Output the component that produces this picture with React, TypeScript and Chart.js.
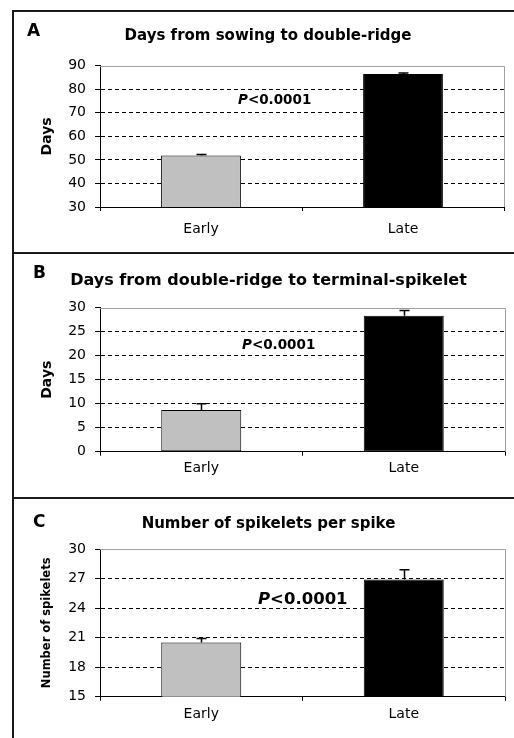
import React, { useEffect, useRef } from "react";
import { Chart, registerables } from "chart.js";

Chart.register(...registerables);
Chart.defaults.font.family = "'DejaVu Sans', sans-serif";
Chart.defaults.color = "#000";

// ---- data ----
const categories = ["Early", "Late"];
const panelLetters = ["A", "B", "C"];
const panelTitles = [
  "Days from sowing to double-ridge",
  "Days from double-ridge to terminal-spikelet",
  "Number of spikelets per spike",
];
const yAxisTitles = ["Days", "Days", "Number of spikelets"];

const sowingToDoubleRidge = [51.9, 86.5];
const sowingToDoubleRidgeErr = [0.4, 0.4];
const doubleRidgeToTerminal = [8.7, 28.3];
const doubleRidgeToTerminalErr = [1.3, 1.1];
const spikeletsPerSpike = [20.5, 26.9];
const spikeletsPerSpikeErr = [0.4, 1.0];

const yMins = [30, 0, 15];
const yMaxs = [90, 30, 30];
const ySteps = [10, 5, 3];

const pValueItalic = "P";
const pValueRest = "<0.0001";

const barColors = ["#c0c0c0", "#000000"];

const panelValues = [sowingToDoubleRidge, doubleRidgeToTerminal, spikeletsPerSpike];
const panelErrors = [sowingToDoubleRidgeErr, doubleRidgeToTerminalErr, spikeletsPerSpikeErr];

// ---- layout (positions/sizes only) ----
type PanelLayout = {
  top: number;
  height: number;
  titleFont: number;
  titlePadTop: number;
  titlePadBottom: number;
  xHeight: number;
  xPad: number;
  rightPad: number;
  pX: number;
  pY: number;
  pFont: number;
  letterX: number;
  letterY: number;
  yTitleFont: number;
  yTitlePad: number;
};

const CANVAS_LEFT = 14;
const CANVAS_WIDTH = 500;
const LEFT_PAD = 18;
const Y_AXIS_WIDTH = 86 - LEFT_PAD;

const layouts: PanelLayout[] = [
  { top: 12, height: 240, titleFont: 15, titlePadTop: 15, titlePadBottom: 20.7, xHeight: 45, xPad: 9.6, rightPad: 10, pX: 224, pY: 88, pFont: 13.5, letterX: 13, letterY: 19.5, yTitleFont: 14, yTitlePad: 24.6 - LEFT_PAD },
  { top: 254, height: 243, titleFont: 16, titlePadTop: 17.4, titlePadBottom: 17.1, xHeight: 45.3, xPad: 3.9, rightPad: 9, pX: 228, pY: 91, pFont: 13.5, letterX: 19, letterY: 20, yTitleFont: 14, yTitlePad: 25.1 - LEFT_PAD },
  { top: 499, height: 239, titleFont: 15, titlePadTop: 16, titlePadBottom: 16, xHeight: 41.3, xPad: 4.9, rightPad: 9, pX: 244, pY: 101, pFont: 16.5, letterX: 19, letterY: 23.5, yTitleFont: 11.5, yTitlePad: 26.6 - LEFT_PAD },
];

function Panel({ index }: { index: number }) {
  const ref = useRef<HTMLCanvasElement | null>(null);
  const L = layouts[index];

  useEffect(() => {
    if (!ref.current) return;
    const values = panelValues[index];
    const errors = panelErrors[index];
    const yMin = yMins[index];
    const yMax = yMaxs[index];

    const decorPlugin = {
      id: "decor" + index,
      beforeDatasetsDraw(chart: any) {
        const { ctx, chartArea } = chart;
        ctx.save();
        ctx.strokeStyle = "#a0a0a0";
        ctx.lineWidth = 1;
        ctx.beginPath();
        ctx.moveTo(chartArea.left, Math.round(chartArea.top) + 0.5);
        ctx.lineTo(Math.round(chartArea.right) + 0.5, Math.round(chartArea.top) + 0.5);
        ctx.lineTo(Math.round(chartArea.right) + 0.5, chartArea.bottom);
        ctx.stroke();
        ctx.restore();
      },
      afterDatasetsDraw(chart: any) {
        const { ctx } = chart;
        const meta = chart.getDatasetMeta(0);
        const yScale = chart.scales.y;
        ctx.save();
        ctx.strokeStyle = "#000";
        ctx.lineWidth = 1.5;
        meta.data.forEach((el: any, i: number) => {
          const yTop = yScale.getPixelForValue(values[i] + errors[i]);
          const x = Math.round(el.x) + 0.5;
          ctx.beginPath();
          ctx.moveTo(x, el.y);
          ctx.lineTo(x, yTop);
          ctx.moveTo(x - 5, yTop);
          ctx.lineTo(x + 5, yTop);
          ctx.stroke();
        });
        // P-value annotation
        ctx.fillStyle = "#000";
        ctx.textBaseline = "middle";
        ctx.textAlign = "left";
        ctx.font = `italic bold ${L.pFont}px 'DejaVu Sans'`;
        ctx.fillText(pValueItalic, L.pX, L.pY);
        const w = ctx.measureText(pValueItalic).width;
        ctx.font = `bold ${L.pFont}px 'DejaVu Sans'`;
        ctx.fillText(pValueRest, L.pX + w, L.pY);
        // panel letter
        ctx.font = `bold 17px 'DejaVu Sans'`;
        ctx.fillText(panelLetters[index], L.letterX, L.letterY);
        ctx.restore();
      },
    };

    const chart = new Chart(ref.current, {
      type: "bar",
      data: {
        labels: categories,
        datasets: [
          {
            data: values,
            backgroundColor: barColors,
            borderColor: "#000",
            borderWidth: 1,
            borderSkipped: false,
            categoryPercentage: 1,
            barPercentage: 0.395,
          },
        ],
      },
      options: {
        responsive: false,
        animation: false,
        devicePixelRatio: 1,
        layout: { padding: { left: LEFT_PAD, right: L.rightPad, top: 0, bottom: 0 } },
        plugins: {
          legend: { display: false },
          tooltip: { enabled: false },
          title: {
            display: true,
            text: panelTitles[index],
            color: "#000",
            font: { size: L.titleFont, weight: "bold", lineHeight: 1.2 },
            padding: { top: L.titlePadTop, bottom: L.titlePadBottom },
          },
        },
        scales: {
          x: {
            offset: true,
            grid: {
              display: true,
              drawOnChartArea: false,
              drawTicks: true,
              tickLength: 4,
              color: "#000",
              tickColor: "#000",
              offset: true,
            },
            border: { display: true, color: "#000", width: 1 },
            ticks: { font: { size: 14 }, color: "#000", padding: L.xPad, maxRotation: 0 },
            afterFit: (s: any) => {
              s.height = L.xHeight;
            },
          },
          y: {
            min: yMin,
            max: yMax,
            grid: {
              display: true,
              drawOnChartArea: true,
              drawTicks: true,
              tickLength: 5,
              tickColor: "#000",
              tickBorderDash: [],
              color: (c: any) =>
                c.tick && (c.tick.value === yMin || c.tick.value === yMax) ? "rgba(0,0,0,0)" : "#000",
            },
            border: { display: true, color: "#000", width: 1, dash: [4, 3] },
            ticks: { stepSize: ySteps[index], font: { size: 14 }, color: "#000", padding: 9 },
            title: {
              display: true,
              text: yAxisTitles[index],
              color: "#000",
              font: { size: L.yTitleFont, weight: "bold", lineHeight: 1.2 },
              padding: { top: L.yTitlePad, bottom: 0 },
            },
            afterFit: (s: any) => {
              s.width = Y_AXIS_WIDTH;
            },
          },
        },
      },
      plugins: [decorPlugin],
    } as any);
    return () => chart.destroy();
  }, [index]);

  return (
    <canvas
      ref={ref}
      width={CANVAS_WIDTH}
      height={L.height}
      style={{ position: "absolute", left: CANVAS_LEFT, top: L.top, width: CANVAS_WIDTH, height: L.height }}
    />
  );
}

export default function App() {
  const line = "#1a1a1a";
  return (
    <div style={{ position: "absolute", left: 0, top: 0, width: 514, height: 738, background: "#fff", overflow: "hidden" }}>
      <div style={{ position: "absolute", left: 12, top: 10, width: 2, height: 728, background: line }} />
      <div style={{ position: "absolute", left: 12, top: 10, width: 502, height: 2, background: line }} />
      <div style={{ position: "absolute", left: 12, top: 252, width: 502, height: 2, background: line }} />
      <div style={{ position: "absolute", left: 12, top: 497, width: 502, height: 2, background: line }} />
      <Panel index={0} />
      <Panel index={1} />
      <Panel index={2} />
    </div>
  );
}
